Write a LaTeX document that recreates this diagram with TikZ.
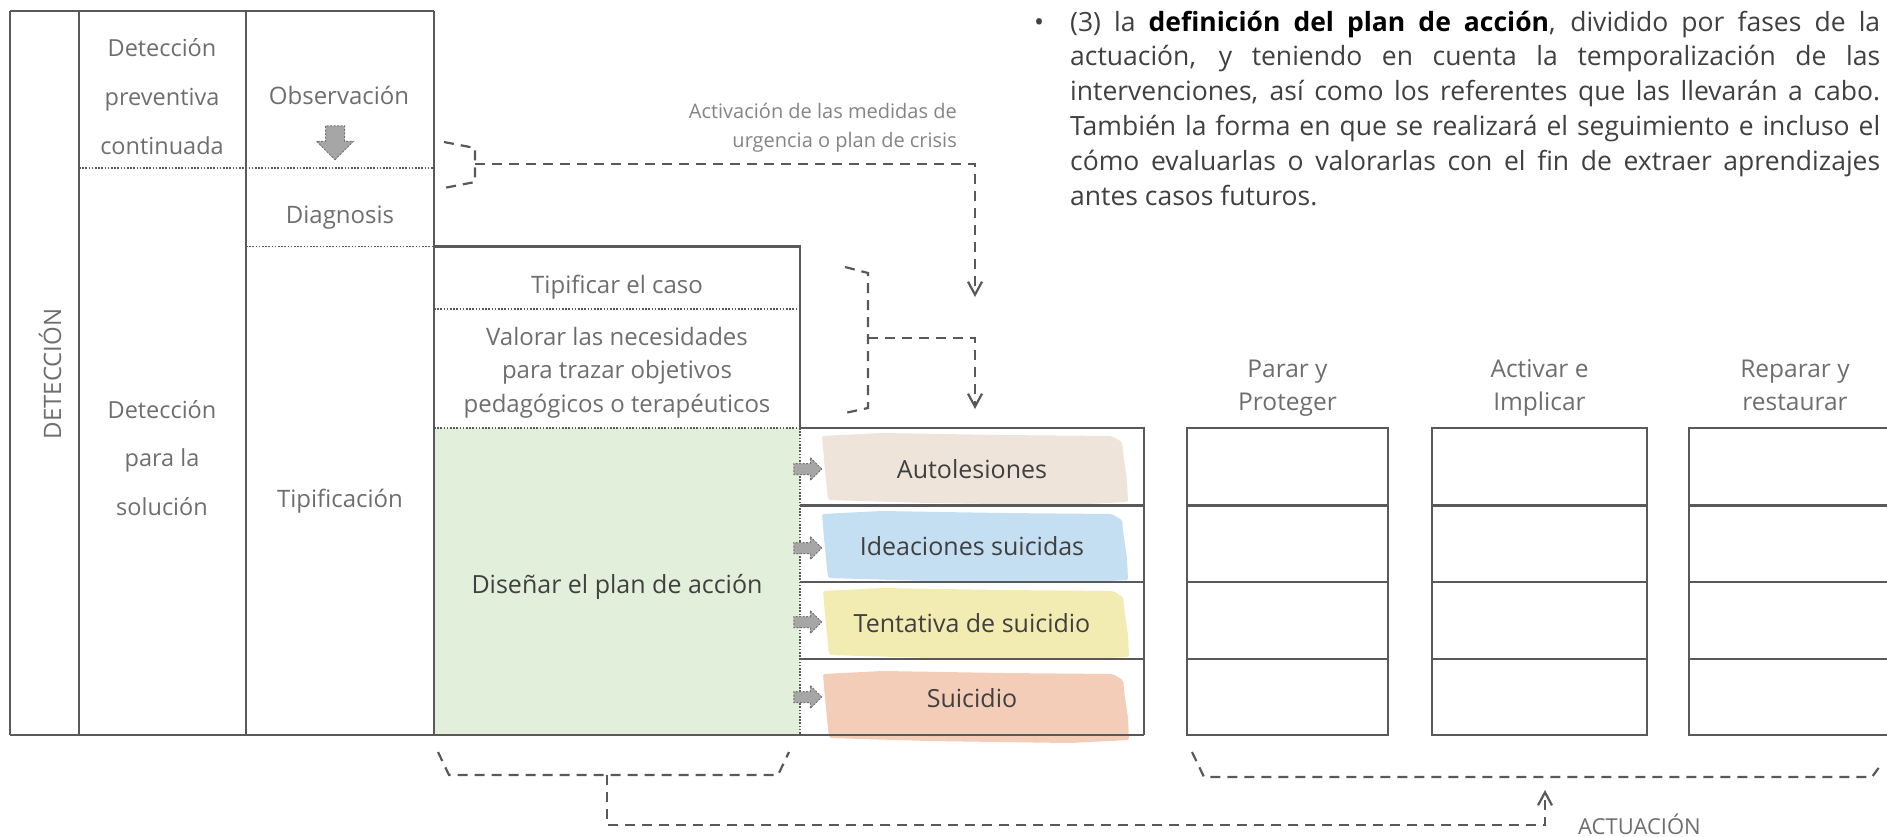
\documentclass[tikz,border=0pt]{standalone}
\usepackage{fontspec}
\setmainfont{Open Sans}
\usepackage{xcolor}
\usepackage{tikz}
\usetikzlibrary{positioning,arrows.meta,shapes.arrows}
\definecolor{FigureLine}{HTML}{595959}
\definecolor{FigureLabel}{HTML}{6E6E6E}
\definecolor{FigureDark}{HTML}{404040}
\definecolor{PlanGreen}{HTML}{E2EFDA}
\definecolor{SelfHarm}{HTML}{EEE4DA}
\definecolor{Ideation}{HTML}{C4DEF2}
\definecolor{Attempt}{HTML}{F2ECB2}
\definecolor{Suicide}{HTML}{F3CDB8}
\definecolor{ArrowFill}{HTML}{A6A6A6}
\newcommand{\FigureBrush}[3]{%
  \fill[#1,rounded corners=2pt] (#2,#3) ++(1,4) -- ++(60,-3) -- ++(120,2)
    -- ++(110,1) -- ++(10,6) -- ++(2,18) -- ++(3,20) -- ++(1,22)
    -- ++(-60,3) -- ++(-140,-2) -- ++(-100,-3) -- ++(-2,-20) -- ++(-2,-20) -- cycle;%
}

\begin{document}
\begin{tikzpicture}[
  x=1pt,y=-1pt,
  font=\fontsize{24}{33}\selectfont,
  text=FigureLabel,
  tableline/.style={draw=FigureLine,line width=2.6pt},
  dotline/.style={draw=FigureLine,line width=1.6pt,dash pattern=on 1.6pt off 1.6pt},
  flow/.style={draw=FigureLine,line width=2.2pt,dash pattern=on 10pt off 7pt},
  flowarrow/.style={flow,-{Straight Barb[length=13pt,width=14pt]}},
  blockarrow/.style={single arrow,fill=ArrowFill,draw=FigureLine!85,line width=1pt,dash pattern=on 2pt off 1.5pt,inner sep=0pt},
  cell/.style={anchor=base,align=center,inner sep=0pt},
  typelabel/.style={anchor=base,inner sep=0pt,text=FigureDark,font=\fontsize{25}{30}\selectfont},
  phasebox/.style={draw=FigureLine,line width=2.6pt,minimum height=307pt,inner sep=0pt},
  phasehead/.style={anchor=base,align=center,inner sep=0pt,font=\fontsize{24.5}{33}\selectfont},
]
  \useasboundingbox (0,0) rectangle (1887,836);

  % colour fills
  \fill[PlanGreen] (434,428) rectangle (800,735);
  \FigureBrush{SelfHarm}{821}{432}
  \FigureBrush{Ideation}{821}{510}
  \FigureBrush{Attempt}{822}{587}
  \FigureBrush{Suicide}{822}{670}

  % left table
  \draw[tableline] (10,11) -- (434,11);
  \draw[tableline] (10,11) -- (10,735);
  \draw[tableline] (79,11) -- (79,735);
  \draw[tableline] (246,11) -- (246,735);
  \draw[tableline] (434,11) -- (434,735);
  \draw[tableline] (10,735) -- (1144,735);
  \draw[tableline] (434,246.5) -- (800,246.5) -- (800,428) -- (1144,428) -- (1144,735);
  \draw[tableline] (800,505.5) -- (1144,505.5);
  \draw[tableline] (800,582) -- (1144,582);
  \draw[tableline] (800,659) -- (1144,659);
  \draw[dotline] (79,168) -- (434,168);
  \draw[dotline] (246,246.5) -- (434,246.5);
  \draw[dotline] (434,309) -- (800,309);
  \draw[dotline] (434,428) -- (800,428);
  \draw[dotline] (800,428) -- (800,735);

  \node[cell,rotate=90] (detection) at (61,374) {DETECCIÓN};
  \node[cell,font=\fontsize{23.5}{49}\selectfont] (prevcell) at (162,154) {Detección\\preventiva\\continuada};
  \node[cell,font=\fontsize{23.5}{48.5}\selectfont] (solcell) at (162,515) {Detección\\para la\\solución};
  \node[cell] (observe) at (339,104) {Observación};
  \node[blockarrow,rotate=-90,minimum height=34pt,inner ysep=9pt,single arrow head extend=9pt] (observearrow) at (335,138) {};
  \node[cell] (diagnosis) at (340,223) {Diagnosis};
  \node[cell] (typing) at (340,507) {Tipificación};
  \node[cell] (typecase) at (617,293) {Tipificar el caso};
  \node[cell,font=\fontsize{24}{33.5}\selectfont] (needs) at (617,412) {Valorar las necesidades\\para trazar objetivos\\pedagógicos o terapéuticos};
  \node[typelabel] (design) at (617,593) {Diseñar el plan de acción};

  % types of case
  \node[typelabel] (selfharm) at (972,478) {Autolesiones};
  \node[typelabel] (ideation) at (972,555) {Ideaciones suicidas};
  \node[typelabel] (attempt) at (972,632) {Tentativa de suicidio};
  \node[typelabel] (suicide) at (972,707) {Suicidio};
  \node[blockarrow,minimum height=28pt,inner ysep=5pt,single arrow head extend=6pt] (selfharmarrow) at (805,469) {};
  \node[blockarrow,minimum height=28pt,inner ysep=5pt,single arrow head extend=6pt] (ideationarrow) at (805,548) {};
  \node[blockarrow,minimum height=28pt,inner ysep=5pt,single arrow head extend=6pt] (attemptarrow) at (805,622) {};
  \node[blockarrow,minimum height=28pt,inner ysep=5pt,single arrow head extend=6pt] (suicidearrow) at (805,697) {};

  % phases of the action
  \node[phasebox,minimum width=201pt] (stopcol) at (1287.5,581.5) {};
  \node[phasebox,minimum width=215pt] (activatecol) at (1539.5,581.5) {};
  \node[phasebox,minimum width=211pt] (repaircol) at (1794.5,581.5) {};
  \draw[tableline] (stopcol.west |- 0,505.5) -- (stopcol.east |- 0,505.5);
  \draw[tableline] (stopcol.west |- 0,582) -- (stopcol.east |- 0,582);
  \draw[tableline] (stopcol.west |- 0,659) -- (stopcol.east |- 0,659);
  \draw[tableline] (activatecol.west |- 0,505.5) -- (activatecol.east |- 0,505.5);
  \draw[tableline] (activatecol.west |- 0,582) -- (activatecol.east |- 0,582);
  \draw[tableline] (activatecol.west |- 0,659) -- (activatecol.east |- 0,659);
  \draw[tableline] (repaircol.west |- 0,505.5) -- (repaircol.east |- 0,505.5);
  \draw[tableline] (repaircol.west |- 0,582) -- (repaircol.east |- 0,582);
  \draw[tableline] (repaircol.west |- 0,659) -- (repaircol.east |- 0,659);
  \node[phasehead] (stophead) at (stopcol.north |- 0,410) {Parar y\\Proteger};
  \node[phasehead] (activatehead) at (activatecol.north |- 0,410) {Activar e\\Implicar};
  \node[phasehead] (repairhead) at (1795,410) {Reparar y\\restaurar};

  % dashed links
  \node[anchor=base east,align=right,inner sep=0pt,text=FigureLabel!85,font=\fontsize{20}{29}\selectfont] (crisis) at (957,147) {Activación de las medidas de\\urgencia o plan de crisis};
  \draw[flow] (444,142) -- (475,148) -- (475,182) -- (444,188);
  \coordinate (crisisbrace) at (475,164);
  \coordinate (crisisend) at (975,297);
  \draw[flowarrow] (crisisbrace) -| (crisisend);
  \draw[flow] (845,267) -- (868,273) -- (868,408) -- (845,413);
  \coordinate (needsbrace) at (868,338);
  \coordinate (needsend) at (975,409);
  \draw[flowarrow] (needsbrace) -| (needsend);
  \draw[flow] (438,752) -- (449,775) -- (778,775) -- (789,752);
  \coordinate (planbrace) at (607,775);
  \draw[flow] (1192,752) -- (1204,777) -- (1872,777) -- (1880,766);
  \coordinate (actuend) at (1545,790);
  \draw[flowarrow] (planbrace) |- (actuend |- 0,825) -- (actuend);
  \node[anchor=base west,inner sep=0pt,font=\fontsize{22}{26}\selectfont] (actuacion) at (1578,834) {ACTUACIÓN};

  % bullet text
  \node[anchor=base,inner sep=0pt,text=FigureDark,font=\fontsize{26.5}{34.8}\selectfont] (bullet) at (1039,31) {•};
  \node[anchor=base west,inner sep=0pt,text width=810pt,align=justify,text=FigureDark,font=\fontsize{26.5}{34.8}\selectfont] (planpara) at (1070,31)
    {(3) la \textcolor{black}{\textbf{definición del plan de acción}}, dividido por fases de la\linebreak
     actuación, y teniendo en cuenta la temporalización de las\linebreak
     intervenciones, así como los referentes que las llevarán a cabo.\linebreak
     También la forma en que se realizará el seguimiento e incluso el\linebreak
     cómo evaluarlas o valorarlas con el fin de extraer aprendizajes\linebreak
     antes casos futuros.};
\end{tikzpicture}
\end{document}
